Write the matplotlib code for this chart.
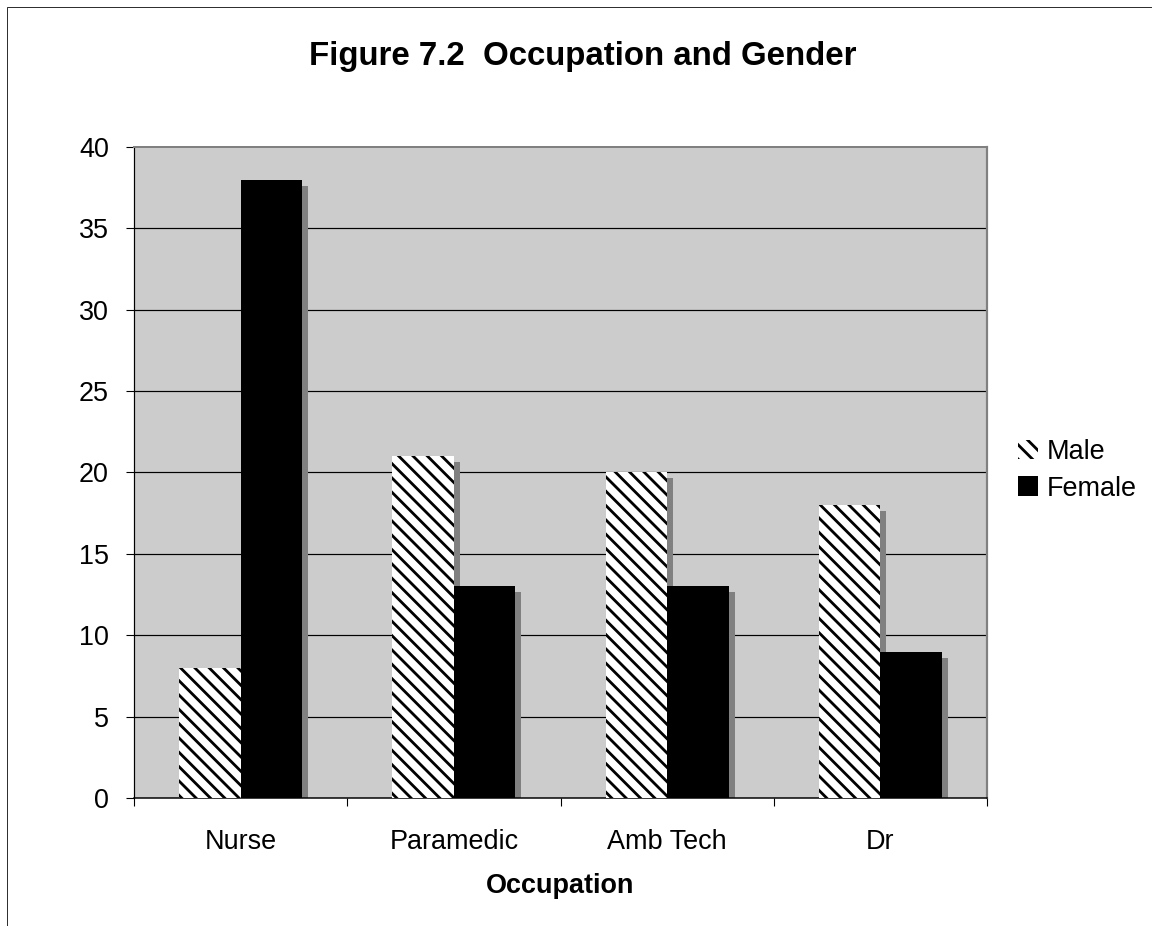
import matplotlib
matplotlib.use("Agg")
import matplotlib.pyplot as plt
import matplotlib.transforms as mtransforms
from matplotlib.patches import Rectangle, Patch
import numpy as np

#
# Data
#
occupations = ["Nurse", "Paramedic", "Amb Tech", "Dr"]
male_counts = [8, 21, 20, 18]
female_counts = [38, 13, 13, 9]
y_ticks = [0, 5, 10, 15, 20, 25, 30, 35, 40]

# Picture size in pixels; dpi picked so the hatch stripe period fits the original
W, H = 1152, 926
DPI = 86


# Pixels to points
def pt(px):
    return px * 72 / DPI


plt.rcParams["font.family"] = ["Liberation Sans", "DejaVu Sans"]
plt.rcParams["hatch.linewidth"] = pt(2.8)
plt.rcParams["hatch.color"] = "black"

fig = plt.figure(figsize=(W / DPI, H / DPI), dpi=DPI)
ax = fig.add_axes([134 / W, 1 - 798 / H, (987 - 134) / W, (798 - 147) / H])

# Outer chart frame (only left and top edges fall inside the picture)
fig.patches.append(Rectangle((6.5 / W, -0.1), 1.2, 1.1 - 7.5 / H,
                             transform=fig.transFigure, fill=False,
                             edgecolor="#303030", linewidth=pt(1)))

x = np.arange(len(occupations))
width = 0.288

# Drop shadows, shifted 6 px right and down
shadow = ax.transData + mtransforms.ScaledTranslation(6 / DPI, -6 / DPI, fig.dpi_scale_trans)
for offs, vals in ((-width / 2, male_counts), (width / 2, female_counts)):
    ax.bar(x + offs, vals, width, color="#808080", linewidth=0,
           transform=shadow, zorder=2)

ax.bar(x - width / 2, male_counts, width, color="white", edgecolor="black",
       hatch="\\\\", linewidth=0, zorder=3)
ax.bar(x + width / 2, female_counts, width, color="black", linewidth=0, zorder=3)

# Axes look
font_size = pt(27)
ax.set_facecolor("#CCCCCC")
ax.set_xlim(-0.5, len(occupations) - 0.5)
ax.set_ylim(0, 40)
ax.set_yticks(y_ticks)
ax.set_xticks(x)
ax.set_xticklabels(occupations, fontsize=font_size)
ax.set_xticks(np.arange(len(occupations) + 1) - 0.5, minor=True)
ax.tick_params(axis="x", which="major", length=0, pad=pt(31))
ax.tick_params(axis="x", which="minor", length=pt(8), width=pt(1.1), direction="out")
ax.tick_params(axis="y", length=pt(8), width=pt(1.1), labelsize=font_size, pad=pt(17))
for yv in y_ticks[1:-1]:
    ax.axhline(yv, color="black", linewidth=pt(1.2), zorder=1)

ax.spines["left"].set_color("black")
ax.spines["bottom"].set_color("black")
ax.spines["left"].set_linewidth(pt(1.2))
ax.spines["bottom"].set_linewidth(pt(1.5))
ax.spines["top"].set_color("#808080")
ax.spines["right"].set_color("#808080")
ax.spines["top"].set_linewidth(pt(2))
ax.spines["right"].set_linewidth(pt(2.2))

ax.set_xlabel("Occupation", fontsize=font_size, fontweight="bold")
ax.xaxis.set_label_coords(0.5, (798 - 873) / (798 - 147))

fig.text(583 / W, 1 - 65 / H, "Figure 7.2  Occupation and Gender", ha="center",
         va="baseline", fontsize=pt(33), fontweight="bold")

handles = [Patch(facecolor="white", edgecolor="black", hatch="\\\\", linewidth=0),
           Patch(facecolor="black", linewidth=0)]
fig.legend(handles, ["Male", "Female"], loc="upper left",
           bbox_to_anchor=(1018 / W, 1 - 439 / H), frameon=False,
           fontsize=font_size, handlelength=0.75, handleheight=0.75, handletextpad=0.3,
           labelspacing=0.4, borderpad=0, borderaxespad=0)

fig.savefig("out.png", dpi=DPI)
